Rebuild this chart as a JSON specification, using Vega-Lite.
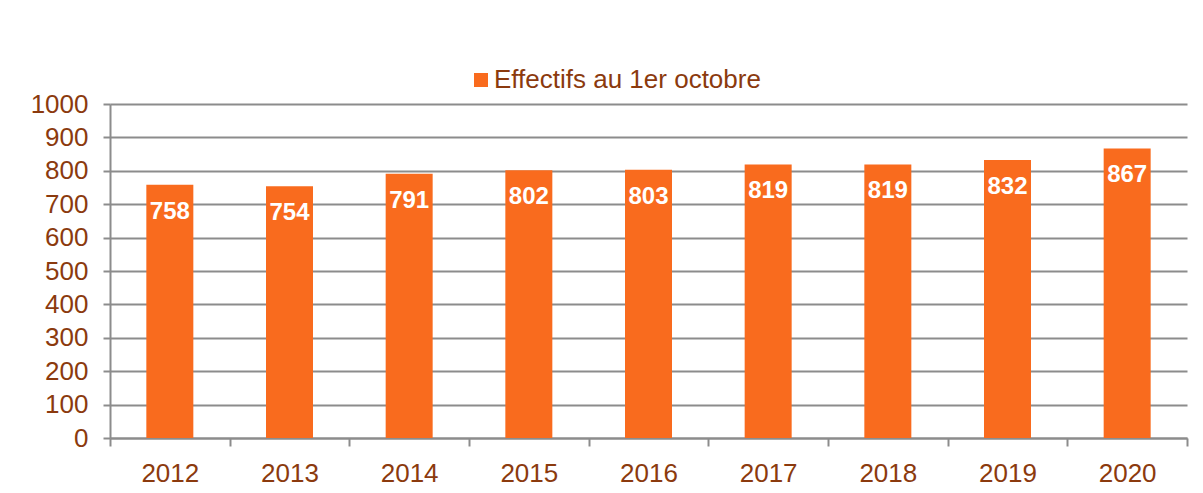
{
  "$schema": "https://vega.github.io/schema/vega-lite/v6.json",
  "width": 1077,
  "height": 334,
  "autosize": {"type": "none"},
  "padding": {"left": 110, "top": 104, "right": 16, "bottom": 55},
  "background": "white",
  "config": {
    "font": "Liberation Sans",
    "view": {"stroke": null}
  },
  "data": {
    "values": [
      {"annee": 2012, "effectifs": 758},
      {"annee": 2013, "effectifs": 754},
      {"annee": 2014, "effectifs": 791},
      {"annee": 2015, "effectifs": 802},
      {"annee": 2016, "effectifs": 803},
      {"annee": 2017, "effectifs": 819},
      {"annee": 2018, "effectifs": 819},
      {"annee": 2019, "effectifs": 832},
      {"annee": 2020, "effectifs": 867}
    ]
  },
  "encoding": {
    "x": {
      "field": "annee",
      "type": "quantitative",
      "scale": {"domain": [2011.5, 2020.5], "nice": false, "zero": false, "padding": 0},
      "axis": {
        "title": null,
        "values": [2011.5, 2012.5, 2013.5, 2014.5, 2015.5, 2016.5, 2017.5, 2018.5, 2019.5, 2020.5],
        "labelExpr": "datum.value < 2020 ? format(datum.value + 0.5, 'd') : ''",
        "labelOffset": 59.8,
        "labelFlush": false,
        "labelOverlap": false,
        "labelBound": false,
        "grid": false,
        "domainColor": "#8c8c8c",
        "domainWidth": 2,
        "tickColor": "#8c8c8c",
        "tickWidth": 2,
        "tickSize": 8,
        "labelPadding": 14,
        "labelFontSize": 26,
        "labelColor": "#8B3A0E"
      }
    },
    "y": {
      "field": "effectifs",
      "type": "quantitative",
      "scale": {"domain": [0, 1000], "nice": false},
      "axis": {
        "title": null,
        "format": "d",
        "values": [0, 100, 200, 300, 400, 500, 600, 700, 800, 900, 1000],
        "grid": true,
        "gridColor": "#8c8c8c",
        "gridWidth": 2,
        "domainColor": "#8c8c8c",
        "domainWidth": 2,
        "tickColor": "#8c8c8c",
        "tickWidth": 2,
        "tickSize": 7,
        "labelPadding": 15,
        "labelFontSize": 26,
        "labelColor": "#8B3A0E"
      }
    }
  },
  "layer": [
    {
      "mark": {"type": "bar", "width": 47},
      "encoding": {
        "color": {
          "datum": "Effectifs au 1er octobre",
          "type": "nominal",
          "scale": {"range": ["#F96B1E"]},
          "legend": {
            "title": null,
            "orient": "none",
            "legendX": 358,
            "legendY": -37,
            "padding": 0,
            "symbolType": "square",
            "symbolSize": 196,
            "symbolStrokeWidth": 0,
            "labelFontSize": 26,
            "labelLimit": 0,
            "labelColor": "#8B3A0E",
            "labelOffset": 0
          }
        }
      }
    },
    {
      "mark": {
        "type": "text",
        "baseline": "top",
        "dy": 15,
        "fontSize": 24,
        "fontWeight": "bold",
        "color": "white"
      },
      "encoding": {
        "text": {"field": "effectifs", "type": "quantitative"}
      }
    }
  ]
}
